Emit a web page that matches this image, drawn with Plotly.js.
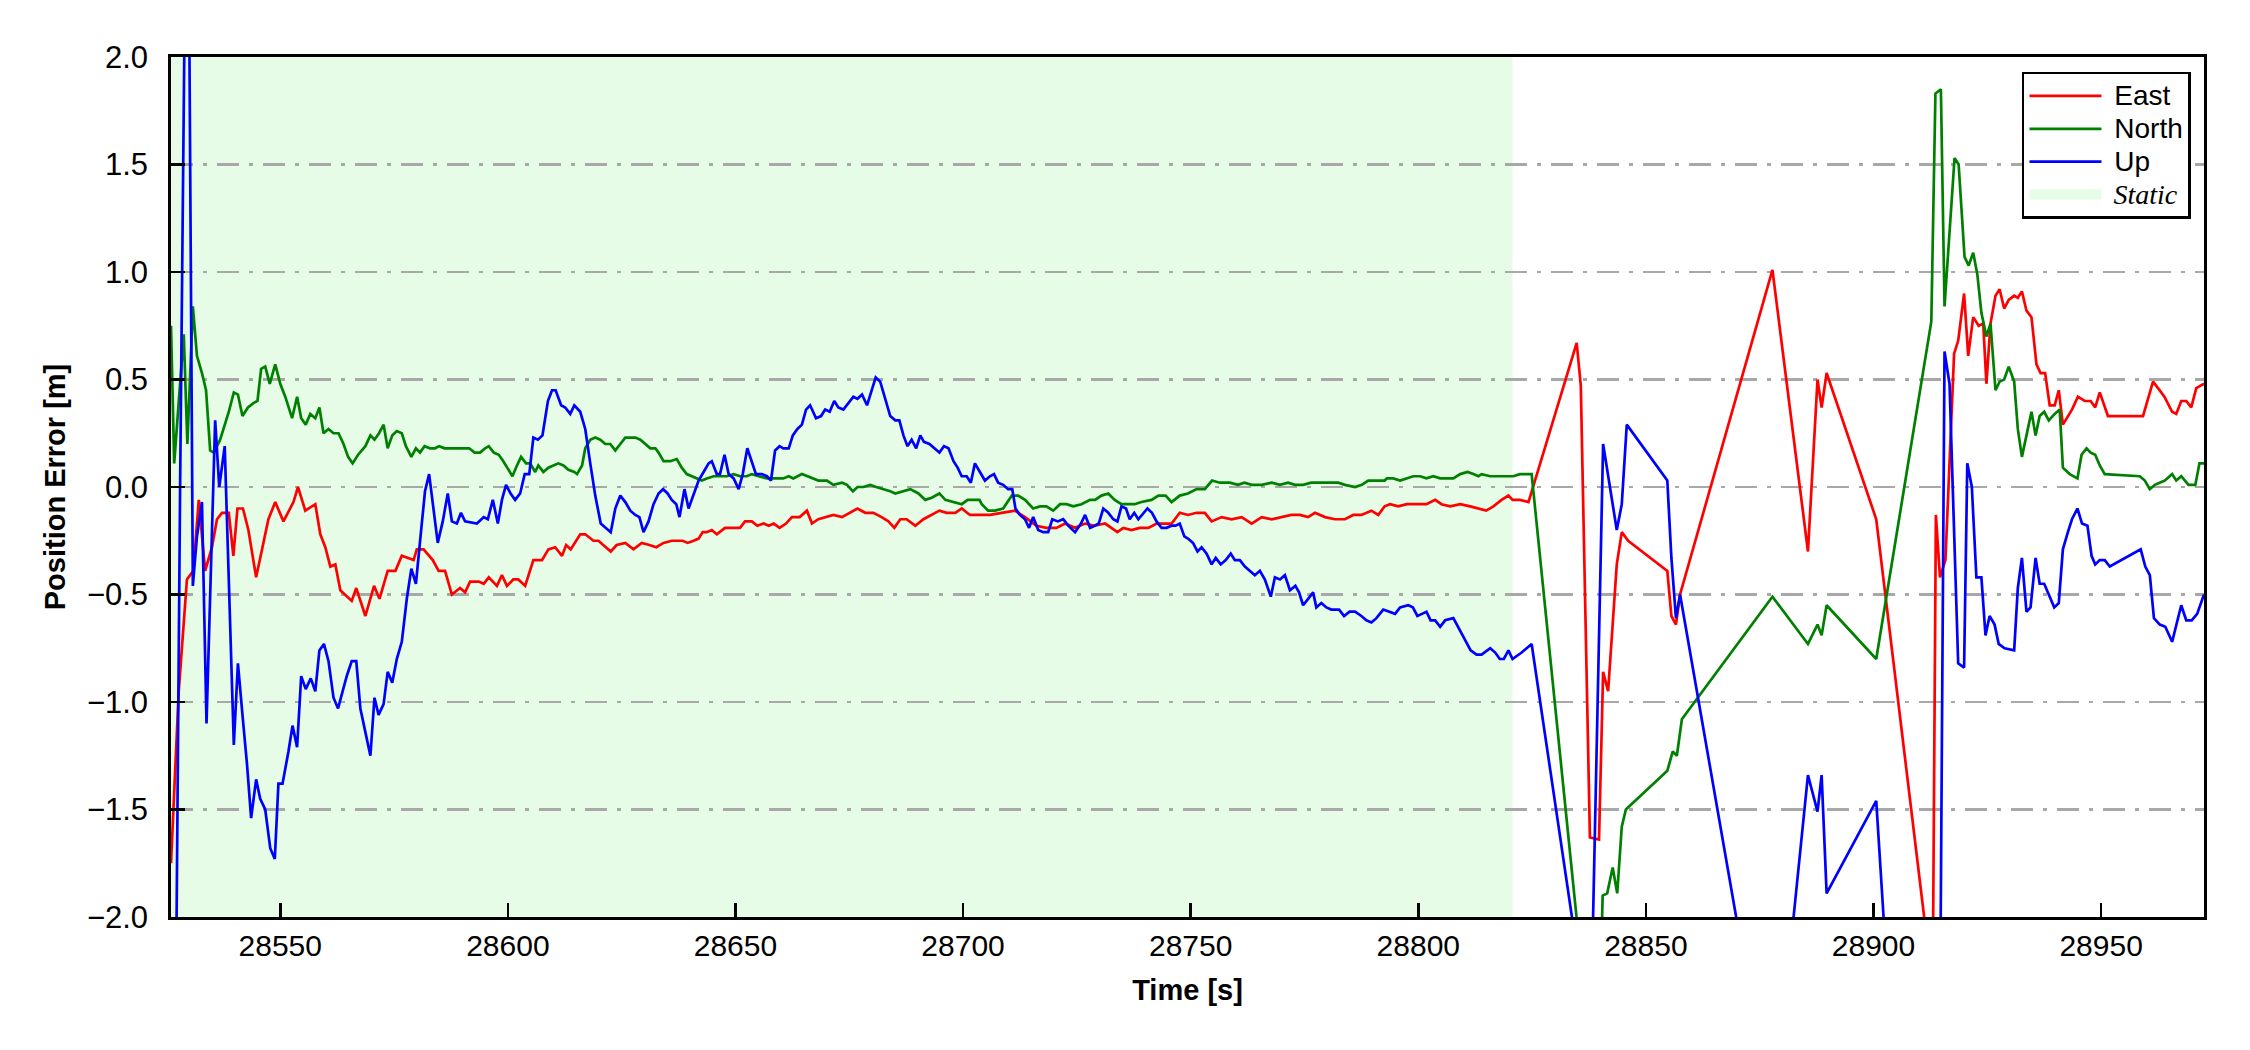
<!DOCTYPE html>
<html>
<head>
<meta charset="utf-8">
<script src="https://cdn.plot.ly/plotly-3.0.1.min.js"></script>
<style>html,body{margin:0;padding:0;background:#fff;}#chart{width:2250px;height:1050px;}</style>
</head>
<body>
<div id="chart"></div>
<script>
// ---- data: [time (s), error (m)] ----
const eastSeries = [
[28526.0,-1.75],[28527.7,-0.95],[28529.5,-0.43],[28530.9,-0.39],[28532.1,-0.06],[28533.5,-0.39],[28535.0,-0.28],[28536.1,-0.15],[28537.2,-0.12],[28538.7,-0.12],
[28539.7,-0.32],[28540.6,-0.10],[28541.8,-0.10],[28543.0,-0.20],[28544.7,-0.42],[28546.3,-0.26],[28547.4,-0.15],[28548.9,-0.07],[28550.7,-0.16],[28552.9,-0.07],
[28553.9,0.00],[28555.5,-0.11],[28557.7,-0.08],[28558.8,-0.22],[28559.9,-0.28],[28561.0,-0.37],[28562.1,-0.36],[28563.2,-0.48],[28564.6,-0.51],[28565.7,-0.53],
[28566.7,-0.47],[28568.7,-0.60],[28570.6,-0.46],[28571.8,-0.52],[28573.6,-0.39],[28575.3,-0.39],[28576.7,-0.32],[28578.0,-0.33],[28579.3,-0.34],[28580.0,-0.29],
[28581.5,-0.29],[28583.5,-0.34],[28584.8,-0.39],[28586.2,-0.39],[28587.7,-0.50],[28589.5,-0.47],[28590.6,-0.49],[28591.7,-0.44],[28593.6,-0.44],[28594.7,-0.45],
[28595.8,-0.42],[28597.6,-0.46],[28598.7,-0.41],[28599.8,-0.46],[28601.2,-0.43],[28602.3,-0.43],[28603.8,-0.46],[28605.6,-0.34],[28607.5,-0.34],[28608.9,-0.29],
[28610.4,-0.28],[28611.9,-0.32],[28612.8,-0.27],[28613.8,-0.29],[28615.9,-0.22],[28617.0,-0.22],[28618.8,-0.25],[28619.9,-0.25],[28621.4,-0.28],[28622.6,-0.30],
[28623.9,-0.27],[28625.8,-0.26],[28627.6,-0.29],[28629.4,-0.26],[28631.1,-0.27],[28632.6,-0.28],[28634.2,-0.26],[28636.0,-0.25],[28638.4,-0.25],[28639.5,-0.26],
[28640.8,-0.25],[28641.9,-0.24],[28642.8,-0.21],[28643.7,-0.21],[28644.8,-0.20],[28645.9,-0.22],[28647.7,-0.19],[28649.6,-0.19],[28651.0,-0.19],[28652.1,-0.16],
[28653.6,-0.16],[28654.8,-0.18],[28656.2,-0.17],[28657.3,-0.18],[28658.4,-0.17],[28659.7,-0.19],[28661.1,-0.17],[28662.4,-0.14],[28664.1,-0.14],[28665.7,-0.11],
[28666.8,-0.17],[28668.2,-0.15],[28670.1,-0.14],[28671.5,-0.13],[28673.4,-0.14],[28675.2,-0.12],[28676.8,-0.10],[28678.5,-0.12],[28680.3,-0.12],[28682.1,-0.14],
[28683.6,-0.16],[28684.9,-0.19],[28686.2,-0.15],[28687.6,-0.15],[28689.5,-0.18],[28691.3,-0.15],[28693.1,-0.13],[28694.8,-0.11],[28696.4,-0.12],[28698.3,-0.12],
[28699.7,-0.10],[28701.5,-0.13],[28703.6,-0.13],[28705.9,-0.13],[28708.5,-0.12],[28711.4,-0.11],[28713.6,-0.14],[28716.1,-0.18],[28718.3,-0.19],[28720.5,-0.19],
[28722.4,-0.17],[28724.6,-0.19],[28726.8,-0.17],[28728.9,-0.18],[28731.2,-0.17],[28732.6,-0.19],[28733.9,-0.21],[28735.2,-0.19],[28737.0,-0.20],[28738.8,-0.19],
[28740.7,-0.19],[28742.5,-0.17],[28744.3,-0.17],[28745.8,-0.17],[28747.6,-0.12],[28749.4,-0.13],[28751.3,-0.12],[28753.1,-0.12],[28754.6,-0.16],[28756.8,-0.14],
[28759.0,-0.15],[28761.2,-0.14],[28763.4,-0.17],[28765.6,-0.14],[28767.8,-0.15],[28770.0,-0.14],[28772.1,-0.13],[28774.0,-0.13],[28775.8,-0.14],[28777.3,-0.12],
[28779.5,-0.14],[28781.7,-0.15],[28783.9,-0.15],[28785.7,-0.13],[28787.5,-0.13],[28789.7,-0.11],[28791.2,-0.13],[28792.6,-0.09],[28793.8,-0.08],[28795.6,-0.09],
[28797.5,-0.08],[28799.6,-0.08],[28801.8,-0.08],[28803.7,-0.06],[28805.1,-0.08],[28807.0,-0.09],[28809.2,-0.08],[28811.4,-0.09],[28813.2,-0.10],[28814.9,-0.11],
[28816.5,-0.09],[28818.3,-0.06],[28819.8,-0.04],[28820.7,-0.06],[28822.3,-0.06],[28824.2,-0.07],
[28834.8,0.67],[28835.7,0.47],[28837.7,-1.63],[28839.7,-1.64],[28840.6,-0.86],[28841.7,-0.95],[28843.6,-0.36],[28844.7,-0.21],[28846.1,-0.25],[28854.7,-0.39],
[28855.6,-0.60],[28856.6,-0.64],[28857.5,-0.50],[28877.8,1.01],[28885.6,-0.30],[28887.7,0.50],[28888.6,0.37],[28889.7,0.53],[28900.6,-0.15],[28911.7,-2.10],
[28912.7,-3.30],[28913.7,-0.13],[28914.6,-0.42],[28915.8,-0.34],[28917.7,0.62],[28918.6,0.68],[28919.9,0.90],[28920.8,0.61],[28921.9,0.79],[28923.1,0.75],
[28924.1,0.76],[28924.8,0.48],[28925.7,0.76],[28926.8,0.89],[28927.7,0.92],[28928.7,0.83],[28929.7,0.87],[28930.9,0.89],[28931.7,0.88],[28932.6,0.91],
[28933.6,0.82],[28934.7,0.79],[28935.8,0.57],[28936.7,0.53],[28937.7,0.53],[28938.7,0.38],[28939.8,0.38],[28940.7,0.45],[28941.6,0.29],[28942.7,0.33],
[28943.6,0.36],[28944.9,0.42],[28946.4,0.40],[28947.7,0.40],[28948.7,0.37],[28949.7,0.44],[28951.5,0.33],[28959.2,0.33],[28961.4,0.49],[28962.5,0.46],
[28963.9,0.42],[28965.6,0.35],[28966.5,0.34],[28967.6,0.40],[28968.7,0.40],[28969.8,0.37],[28970.9,0.46],[28972.6,0.48]
];
const northSeries = [
[28526.0,0.75],[28526.7,0.11],[28528.8,0.71],[28529.6,0.20],[28530.8,0.84],[28531.7,0.61],[28532.8,0.53],[28533.7,0.45],[28534.6,0.17],[28535.4,0.16],
[28536.8,0.22],[28538.7,0.35],[28539.8,0.44],[28540.7,0.43],[28541.7,0.33],[28542.9,0.37],[28544.1,0.39],[28545.0,0.40],[28545.8,0.55],[28546.7,0.56],
[28547.7,0.48],[28548.9,0.57],[28550.0,0.48],[28551.1,0.42],[28552.6,0.32],[28553.7,0.42],[28554.6,0.32],[28555.6,0.29],[28556.6,0.34],[28557.7,0.32],
[28558.6,0.37],[28559.5,0.25],[28560.6,0.27],[28561.7,0.25],[28562.8,0.25],[28563.9,0.20],[28564.9,0.14],[28565.9,0.11],[28567.1,0.15],[28567.9,0.17],
[28568.7,0.19],[28569.8,0.24],[28570.7,0.22],[28571.7,0.25],[28572.7,0.29],[28573.6,0.18],[28574.6,0.24],[28575.6,0.26],[28576.7,0.25],[28577.6,0.19],
[28578.8,0.14],[28579.8,0.18],[28580.7,0.16],[28581.7,0.19],[28582.9,0.18],[28584.0,0.18],[28584.9,0.19],[28586.1,0.18],[28587.0,0.18],[28588.1,0.18],
[28589.2,0.18],[28590.3,0.18],[28591.5,0.18],[28592.7,0.16],[28593.9,0.16],[28595.0,0.18],[28595.8,0.19],[28596.9,0.16],[28598.0,0.15],[28599.0,0.12],
[28600.1,0.08],[28601.0,0.05],[28602.0,0.10],[28602.9,0.14],[28604.0,0.11],[28604.9,0.11],[28606.0,0.07],[28606.7,0.10],[28607.8,0.07],[28608.9,0.09],
[28610.0,0.10],[28611.1,0.11],[28612.2,0.10],[28613.3,0.08],[28614.6,0.07],[28615.2,0.06],[28616.3,0.10],[28617.0,0.18],[28618.1,0.22],[28619.2,0.23],
[28620.3,0.22],[28621.4,0.20],[28622.5,0.20],[28623.6,0.17],[28624.7,0.20],[28625.8,0.23],[28626.9,0.23],[28628.0,0.23],[28629.1,0.22],[28630.2,0.20],
[28631.3,0.18],[28632.4,0.18],[28633.1,0.16],[28634.2,0.12],[28635.7,0.12],[28637.1,0.13],[28638.2,0.09],[28639.3,0.06],[28640.4,0.05],[28641.5,0.04],
[28642.6,0.03],[28643.7,0.04],[28645.2,0.05],[28646.6,0.05],[28648.1,0.05],[28649.6,0.06],[28651.0,0.05],[28652.5,0.05],[28653.6,0.06],[28655.1,0.05],
[28656.9,0.04],[28658.7,0.04],[28660.5,0.04],[28661.7,0.05],[28662.7,0.04],[28664.6,0.06],[28665.7,0.05],[28667.1,0.04],[28668.2,0.03],[28670.1,0.03],
[28671.5,0.01],[28673.4,0.02],[28674.5,0.01],[28675.8,-0.02],[28676.8,0.00],[28678.1,0.00],[28679.6,0.01],[28680.9,0.00],[28682.5,-0.01],[28684.0,-0.02],
[28685.1,-0.03],[28686.9,-0.02],[28688.4,-0.01],[28690.2,-0.03],[28691.7,-0.06],[28693.1,-0.05],[28694.8,-0.03],[28696.1,-0.06],[28697.9,-0.07],[28699.7,-0.08],
[28701.0,-0.06],[28703.6,-0.06],[28704.1,-0.08],[28705.5,-0.11],[28707.0,-0.11],[28708.8,-0.10],[28710.7,-0.04],[28712.1,-0.04],[28713.6,-0.06],[28715.4,-0.10],
[28716.9,-0.09],[28718.3,-0.09],[28719.8,-0.11],[28721.3,-0.08],[28722.7,-0.08],[28724.2,-0.09],[28726.0,-0.08],[28727.9,-0.06],[28729.0,-0.06],[28730.4,-0.04],
[28731.9,-0.03],[28733.3,-0.06],[28734.8,-0.08],[28736.3,-0.08],[28737.7,-0.08],[28739.2,-0.07],[28741.4,-0.06],[28742.9,-0.04],[28744.5,-0.04],[28745.8,-0.07],
[28747.6,-0.04],[28749.4,-0.03],[28751.3,-0.01],[28753.1,-0.01],[28754.7,0.03],[28756.4,0.02],[28758.6,0.02],[28760.4,0.01],[28761.8,0.02],[28763.4,0.01],
[28765.6,0.01],[28767.8,0.02],[28769.6,0.01],[28771.4,0.02],[28772.9,0.01],[28774.7,0.01],[28776.5,0.02],[28778.7,0.02],[28780.9,0.02],[28782.4,0.02],
[28783.9,0.01],[28786.1,0.00],[28787.6,0.01],[28789.0,0.03],[28790.5,0.03],[28792.6,0.03],[28793.1,0.04],[28794.5,0.04],[28796.0,0.03],[28797.5,0.04],
[28798.9,0.05],[28800.4,0.05],[28801.8,0.04],[28803.3,0.05],[28804.8,0.04],[28806.2,0.04],[28807.7,0.04],[28809.2,0.06],[28810.8,0.07],[28812.1,0.06],
[28813.2,0.05],[28813.9,0.06],[28815.8,0.05],[28817.2,0.05],[28819.1,0.05],[28820.9,0.05],[28822.3,0.06],[28823.8,0.06],[28824.9,0.06],
[28835.0,-2.05],[28836.0,-2.30],[28838.0,-2.60],[28839.8,-2.50],[28840.5,-1.90],[28841.5,-1.89],[28842.7,-1.77],[28843.7,-1.89],[28844.7,-1.58],[28845.6,-1.50],
[28854.7,-1.32],[28855.9,-1.23],[28856.8,-1.25],[28857.9,-1.08],[28877.8,-0.51],[28885.6,-0.73],[28887.7,-0.64],[28888.6,-0.69],[28889.7,-0.55],[28900.6,-0.80],
[28912.7,0.77],[28913.6,1.83],[28914.8,1.85],[28915.6,0.84],[28917.8,1.53],[28918.7,1.50],[28920.0,1.07],[28920.9,1.03],[28921.9,1.09],[28922.8,0.99],
[28923.7,0.81],[28924.8,0.70],[28925.7,0.76],[28926.8,0.45],[28927.7,0.49],[28928.7,0.50],[28929.7,0.56],[28930.9,0.49],[28931.7,0.27],[28932.6,0.14],
[28933.6,0.24],[28934.7,0.35],[28935.6,0.24],[28936.5,0.33],[28937.5,0.35],[28938.5,0.31],[28939.8,0.34],[28940.9,0.36],[28941.6,0.09],[28943.1,0.06],
[28944.8,0.04],[28945.7,0.15],[28946.8,0.18],[28947.7,0.16],[28948.7,0.15],[28949.7,0.10],[28950.8,0.06],[28958.5,0.05],[28959.6,0.03],[28960.7,-0.01],
[28961.8,0.01],[28964.0,0.03],[28965.6,0.06],[28966.5,0.03],[28967.6,0.05],[28969.2,0.01],[28970.7,0.01],[28971.6,0.11],[28972.6,0.11]
];
const upSeries = [
[28526.0,-4.00],[28527.0,-2.60],[28528.0,0.00],[28529.0,2.20],[28530.0,2.20],[28530.8,-0.46],[28531.7,-0.23],[28532.8,-0.07],[28533.8,-1.10],[28535.7,0.31],
[28536.6,0.00],[28537.8,0.19],[28539.8,-1.20],[28540.7,-0.82],[28541.7,-1.06],[28542.7,-1.29],[28543.6,-1.54],[28544.7,-1.36],[28545.6,-1.45],[28546.7,-1.50],
[28547.8,-1.68],[28548.8,-1.73],[28549.6,-1.38],[28550.5,-1.38],[28551.8,-1.23],[28552.7,-1.11],[28553.7,-1.21],[28554.6,-0.88],[28555.6,-0.94],[28556.7,-0.89],
[28557.7,-0.95],[28558.6,-0.76],[28559.6,-0.73],[28560.6,-0.81],[28561.7,-0.98],[28562.7,-1.03],[28564.6,-0.88],[28565.7,-0.81],[28566.7,-0.81],[28567.6,-1.03],
[28568.7,-1.14],[28569.8,-1.25],[28570.7,-0.98],[28571.6,-1.06],[28572.7,-1.01],[28573.6,-0.86],[28574.6,-0.91],[28575.6,-0.80],[28576.7,-0.72],[28577.8,-0.52],
[28578.8,-0.38],[28579.8,-0.45],[28581.0,-0.19],[28581.8,-0.02],[28582.7,0.06],[28583.7,-0.10],[28584.6,-0.26],[28585.7,-0.16],[28586.8,-0.03],[28587.7,-0.16],
[28588.8,-0.17],[28589.7,-0.12],[28590.6,-0.16],[28593.2,-0.17],[28594.7,-0.14],[28595.6,-0.15],[28596.7,-0.06],[28597.8,-0.17],[28598.7,-0.06],[28599.6,0.01],
[28600.6,-0.03],[28601.6,-0.06],[28602.7,-0.03],[28603.7,0.06],[28604.7,0.06],[28605.6,0.23],[28606.6,0.22],[28607.6,0.24],[28608.8,0.40],[28609.7,0.45],
[28610.5,0.45],[28611.7,0.38],[28612.6,0.37],[28613.7,0.34],[28614.6,0.38],[28615.9,0.35],[28617.0,0.27],[28618.1,0.11],[28619.2,-0.04],[28620.4,-0.17],
[28621.6,-0.19],[28622.6,-0.21],[28623.6,-0.10],[28624.7,-0.04],[28625.8,-0.07],[28626.9,-0.11],[28628.0,-0.13],[28628.9,-0.14],[28629.8,-0.21],[28630.9,-0.16],
[28632.0,-0.08],[28633.1,-0.03],[28634.1,-0.01],[28635.1,-0.03],[28636.0,-0.06],[28637.0,-0.08],[28637.7,-0.14],[28638.8,-0.01],[28639.7,-0.10],[28640.8,-0.03],
[28641.9,0.03],[28643.0,0.07],[28644.1,0.11],[28644.8,0.12],[28645.9,0.06],[28646.6,0.06],[28647.6,0.15],[28648.5,0.06],[28649.6,0.04],[28650.7,-0.01],
[28651.6,0.06],[28652.6,0.18],[28653.6,0.12],[28654.5,0.06],[28655.8,0.06],[28656.9,0.05],[28657.8,0.03],[28658.7,0.17],[28659.7,0.19],[28660.5,0.18],
[28661.7,0.18],[28662.6,0.24],[28663.6,0.27],[28664.6,0.29],[28665.5,0.36],[28666.4,0.38],[28667.7,0.32],[28668.8,0.33],[28669.7,0.36],[28670.7,0.35],
[28671.7,0.40],[28672.6,0.37],[28673.7,0.36],[28674.8,0.39],[28675.9,0.42],[28676.8,0.41],[28677.8,0.43],[28678.9,0.38],[28679.9,0.45],[28680.8,0.51],
[28681.8,0.49],[28682.9,0.41],[28684.0,0.33],[28685.1,0.31],[28686.0,0.31],[28686.9,0.24],[28687.8,0.19],[28688.7,0.22],[28689.7,0.18],[28690.6,0.24],
[28691.4,0.21],[28692.6,0.20],[28693.6,0.18],[28694.8,0.16],[28695.8,0.19],[28696.8,0.18],[28697.9,0.12],[28698.8,0.09],[28699.7,0.05],[28700.8,0.05],
[28701.7,0.02],[28702.6,0.11],[28703.7,0.07],[28704.8,0.03],[28705.9,0.05],[28706.8,0.06],[28707.7,0.02],[28708.8,0.01],[28709.9,-0.01],[28710.8,-0.01],
[28711.5,-0.10],[28712.5,-0.13],[28713.6,-0.15],[28714.5,-0.19],[28715.4,-0.14],[28716.5,-0.20],[28717.6,-0.21],[28718.7,-0.21],[28719.6,-0.15],[28720.8,-0.16],
[28722.0,-0.15],[28723.1,-0.18],[28724.6,-0.21],[28725.9,-0.17],[28726.8,-0.13],[28727.9,-0.19],[28728.9,-0.18],[28729.8,-0.17],[28730.8,-0.10],[28731.9,-0.12],
[28733.0,-0.15],[28733.9,-0.16],[28734.8,-0.09],[28735.8,-0.10],[28736.6,-0.15],[28737.6,-0.12],[28738.5,-0.15],[28739.6,-0.12],[28740.5,-0.10],[28741.5,-0.12],
[28742.5,-0.16],[28743.6,-0.19],[28744.7,-0.19],[28745.8,-0.18],[28746.7,-0.18],[28747.6,-0.17],[28748.6,-0.23],[28749.4,-0.24],[28750.5,-0.26],[28751.5,-0.30],
[28752.4,-0.28],[28753.5,-0.31],[28754.6,-0.36],[28755.5,-0.33],[28756.6,-0.36],[28757.7,-0.34],[28758.8,-0.31],[28759.7,-0.34],[28760.8,-0.34],[28761.9,-0.37],
[28763.0,-0.39],[28764.1,-0.41],[28765.2,-0.39],[28766.3,-0.43],[28767.6,-0.51],[28768.5,-0.42],[28769.6,-0.43],[28770.7,-0.41],[28771.8,-0.48],[28773.0,-0.46],
[28773.8,-0.49],[28774.7,-0.55],[28775.8,-0.52],[28776.9,-0.49],[28777.6,-0.56],[28778.7,-0.54],[28779.8,-0.56],[28780.9,-0.57],[28782.6,-0.57],[28783.7,-0.60],
[28784.9,-0.58],[28786.1,-0.58],[28787.5,-0.60],[28788.6,-0.62],[28789.7,-0.63],[28790.8,-0.61],[28792.3,-0.57],[28793.8,-0.58],[28794.9,-0.59],[28796.0,-0.56],
[28797.8,-0.55],[28798.8,-0.56],[28799.8,-0.60],[28800.8,-0.59],[28801.8,-0.58],[28802.7,-0.62],[28803.7,-0.62],[28804.8,-0.65],[28805.9,-0.62],[28807.7,-0.61],
[28809.2,-0.67],[28810.5,-0.72],[28811.5,-0.76],[28812.8,-0.78],[28813.9,-0.78],[28815.8,-0.75],[28816.9,-0.77],[28817.9,-0.80],[28818.8,-0.80],[28819.8,-0.76],
[28820.7,-0.80],[28822.7,-0.77],[28824.9,-0.73],
[28834.8,-2.15],[28835.7,-2.35],[28837.7,-2.70],[28840.6,0.20],[28843.6,-0.20],[28844.7,-0.08],[28845.8,0.29],[28854.7,0.03],[28855.6,-0.33],[28856.6,-0.61],
[28857.5,-0.50],[28877.8,-2.97],[28885.6,-1.34],[28887.7,-1.51],[28888.6,-1.34],[28889.7,-1.89],[28900.6,-1.46],[28903.7,-2.50],[28912.7,-4.00],[28913.7,-3.50],
[28914.7,-2.20],[28915.6,0.63],[28916.7,0.48],[28918.6,-0.82],[28919.9,-0.84],[28920.6,0.11],[28921.6,0.00],[28922.6,-0.42],[28923.7,-0.42],[28924.6,-0.69],
[28925.5,-0.60],[28926.6,-0.64],[28927.5,-0.73],[28928.8,-0.75],[28930.9,-0.76],[28931.7,-0.47],[28932.6,-0.33],[28933.6,-0.58],[28934.5,-0.56],[28935.6,-0.33],
[28936.5,-0.45],[28937.5,-0.45],[28938.5,-0.50],[28939.7,-0.56],[28940.7,-0.54],[28941.6,-0.29],[28942.7,-0.21],[28943.6,-0.15],[28944.8,-0.10],[28945.8,-0.17],
[28947.0,-0.18],[28947.9,-0.32],[28948.7,-0.36],[28949.7,-0.34],[28950.8,-0.34],[28951.9,-0.37],[28958.7,-0.29],[28959.7,-0.37],[28960.7,-0.41],[28961.6,-0.61],
[28962.9,-0.64],[28964.1,-0.65],[28965.6,-0.72],[28966.5,-0.64],[28967.6,-0.55],[28968.7,-0.62],[28969.9,-0.62],[28971.1,-0.59],[28972.6,-0.50]
];
const staticPeriod = [28526.0, 28820.7];   // start, end of static interval (s)
const seriesNames = ['East', 'North', 'Up'];
const staticLabel = 'Static';
const seriesColors = ['#ff0000', '#008000', '#0000ff'];
const staticColor = '#e6fce6';
const xRange = [28526.0, 28972.6];
const yRange = [-2.0, 2.0];

const FONT = 'Liberation Sans, Arial, Helvetica, sans-serif';
const SERIF = 'Liberation Serif, Times New Roman, serif';
const legendName = (txt, serifItalic) => serifItalic
  ? '<span style="font-size:28px;font-family:' + SERIF + '">&nbsp;<i>' + txt + '</i></span>'
  : '<span style="font-size:28px">&nbsp;' + txt + '</span>';

const allSeries = [eastSeries, northSeries, upSeries];
const traces = allSeries.map((s, i) => ({
  type: 'scatter', mode: 'lines',
  x: s.map(p => p[0]), y: s.map(p => p[1]),
  name: legendName(seriesNames[i], false),
  line: {color: seriesColors[i], width: 2.7},
  hoverinfo: 'skip'
}));
// legend entry for the static interval (the interval itself is drawn as a shape)
traces.push({
  type: 'scatter', mode: 'lines',
  x: [staticPeriod[0]], y: [null],
  name: legendName(staticLabel, true),
  line: {color: staticColor, width: 16},
  hoverinfo: 'skip'
});

const layout = {
  width: 2250, height: 1050,
  margin: {l: 171, r: 46, t: 57, b: 133, pad: 0},
  paper_bgcolor: '#ffffff', plot_bgcolor: '#ffffff',
  font: {family: FONT, color: '#000000', size: 28},
  showlegend: true,
  legend: {
    x: 0.9936, y: 0.9826, xanchor: 'right', yanchor: 'top',
    bgcolor: '#ffffff', bordercolor: '#000000', borderwidth: 2.5,
    font: {family: FONT, size: 23, color: '#000000'},
    itemwidth: 72, tracegroupgap: 0
  },
  xaxis: {
    range: xRange, autorange: false,
    tick0: 28550, dtick: 50, tickformat: 'd',
    ticks: 'inside', ticklen: 14, tickwidth: 2.5, tickcolor: '#000000',
    showline: true, linewidth: 2.7, linecolor: '#000000', mirror: true,
    showgrid: false, zeroline: false, automargin: false,
    tickfont: {family: FONT, size: 30, color: '#000000'},
    title: {text: '<b>Time [s]</b>', font: {family: FONT, size: 29, color: '#000000'}, standoff: 19}
  },
  yaxis: {
    range: yRange, autorange: false,
    tick0: -2, dtick: 0.5, tickformat: '.1f',
    ticks: 'inside', ticklen: 14, tickwidth: 2.5, tickcolor: '#000000',
    ticklabelstandoff: 14,
    showline: true, linewidth: 2.7, linecolor: '#000000', mirror: true,
    showgrid: true, gridcolor: '#a8a8a8', gridwidth: 2.6, griddash: '22px,10px,4px,10px',
    zeroline: false, automargin: false,
    tickfont: {family: FONT, size: 31, color: '#000000'},
    title: {text: '<b>Position Error [m]</b>', font: {family: FONT, size: 29, color: '#000000'}, standoff: 13}
  },
  shapes: [{
    type: 'rect', xref: 'x', yref: 'paper',
    x0: staticPeriod[0], x1: staticPeriod[1], y0: 0, y1: 1,
    fillcolor: staticColor, line: {width: 0}, layer: 'below'
  }]
};

Plotly.newPlot('chart', traces, layout, {staticPlot: true, displayModeBar: false});
</script>
</body>
</html>
